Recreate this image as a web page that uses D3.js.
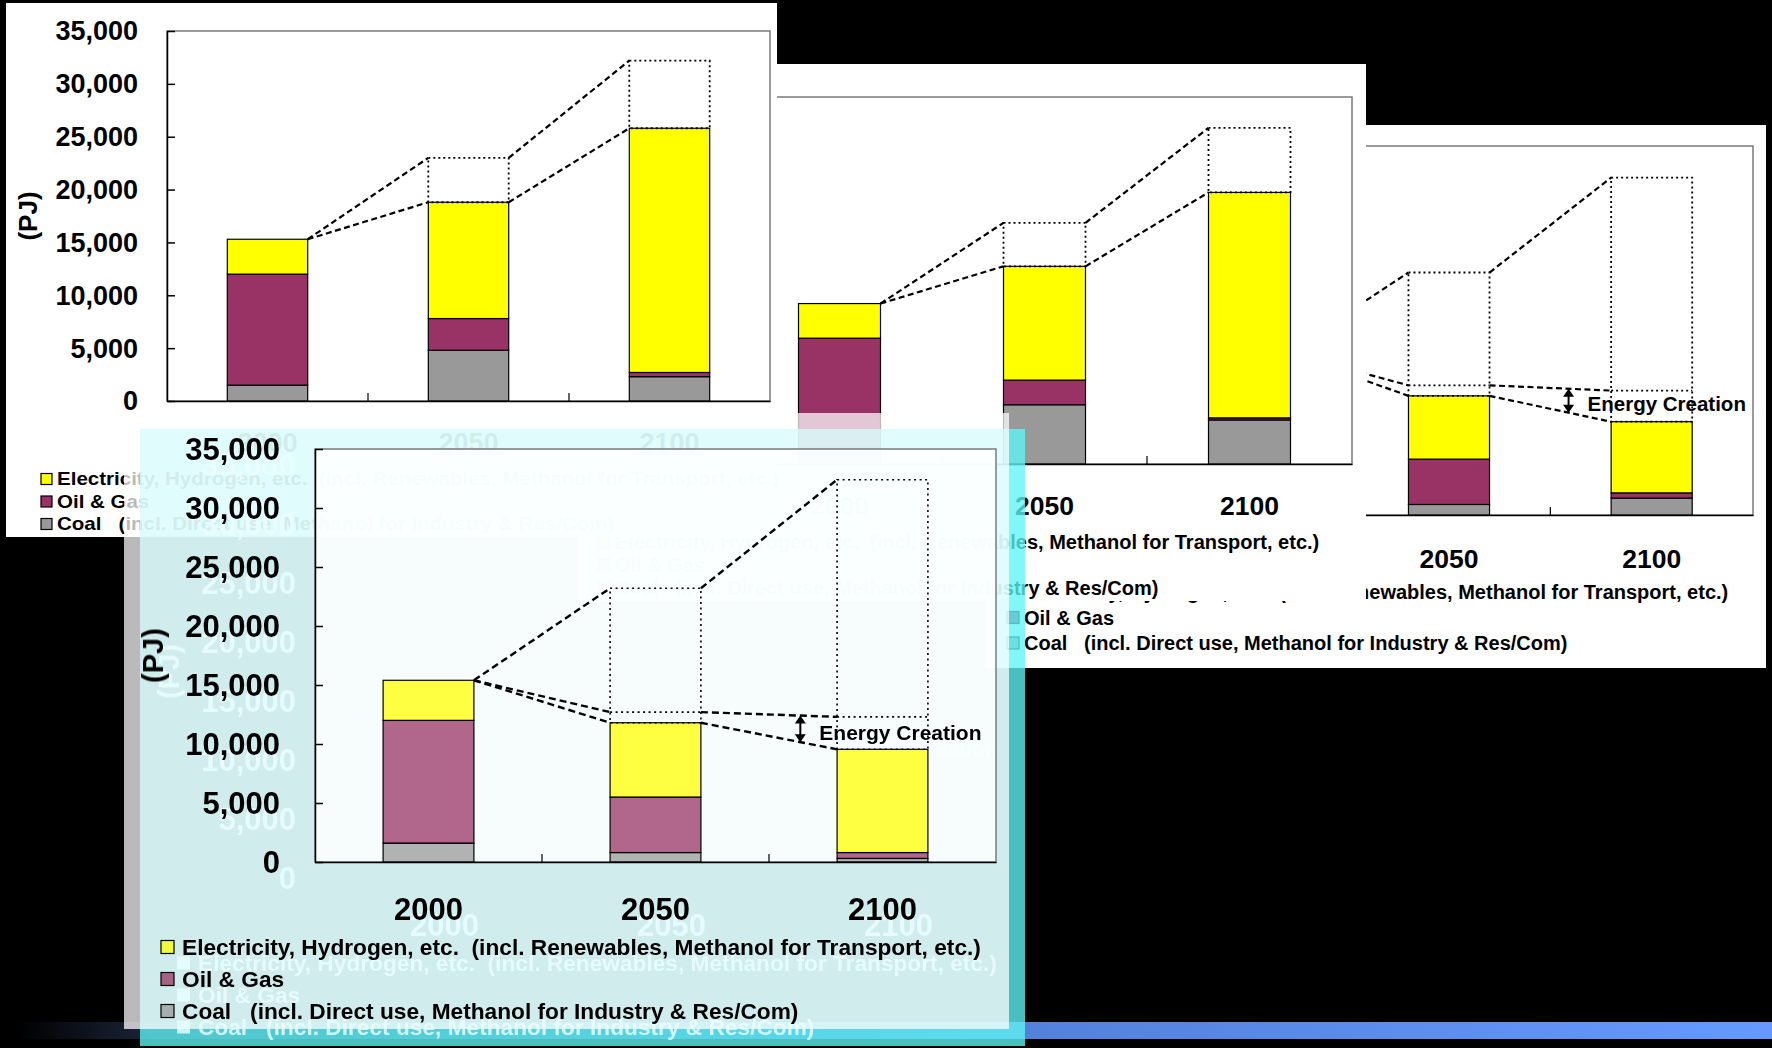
<!DOCTYPE html>
<html>
<head>
<meta charset="utf-8">
<script src="https://cdn.jsdelivr.net/npm/d3@7"></script>
<style>
body { margin: 0; background: #000; }
svg { display: block; }
text { font-family: 'Liberation Sans', Arial, sans-serif; font-weight: bold; white-space: pre; }
</style>
</head>
<body>
<svg id="chart" width="1772" height="1048"></svg>
<script>
const years = ['2000', '2050', '2100']
const yTicks = [0, 5000, 10000, 15000, 20000, 25000, 30000, 35000]
const seriesKeys = ['coal', 'oil', 'elec']
const legendKeys = ['elec', 'oil', 'coal']
const legendLabels = [
    'Electricity, Hydrogen, etc.  (incl. Renewables, Methanol for Transport, etc.)',
    'Oil & Gas',
    'Coal   (incl. Direct use, Methanol for Industry & Res/Com)'
]
const yLabel = '(PJ)'
const annotation = 'Energy Creation'

// slide 1 (back left)
const coalA = [1500, 4800, 2300]
const oilA = [10500, 3000, 400]
const elecA = [3300, 11000, 23100]
const topA = [null, 23000, 32200]

// slide 2
const coalB = [1500, 5650, 4200]
const oilB = [10500, 2350, 200]
const elecB = [3300, 10850, 21500]
const topB = [null, 23000, 32050]

// slide 3 (back right)
const coalC = [1600, 1000, 1600]
const oilC = [10400, 4300, 500]
const elecC = [3400, 6000, 6750]
const potC = [null, 12300, 11800]
const topC = [null, 23000, 32000]

// slide 4 (front)
const coalD = [1600, 800, 300]
const oilD = [10400, 4700, 500]
const elecD = [3400, 6300, 8750]
const potD = [null, 12700, 12300]
const topD = [null, 23200, 32400]

const colors = { coal: '#999999', oil: '#993366', elec: '#ffff00' }
const fmt = d3.format(',')
const svg = d3.select('#chart')

function scalesFor(o) {
    const x = d3.scaleBand().domain(years).range([o.left, o.right]).paddingInner(0.6).paddingOuter(0.3)
    const y = d3.scaleLinear().domain([0, 35000]).range([o.bottom, o.top])
    return { x, y }
}

function totalsOf(o) {
    return years.map((yr, i) => o.coal[i] + o.oil[i] + o.elec[i])
}

function arrowPos(o, x, y) {
    const totals = totalsOf(o)
    const bw = x.bandwidth()
    const xa0 = x(years[1]) + bw
    const xa1 = x(years[2])
    const f = o.arrowAt
    return {
        xa: xa0 + f * (xa1 - xa0),
        yu: y(o.pot[1] + f * (o.pot[2] - o.pot[1])),
        yl: y(totals[1] + f * (totals[2] - totals[1]))
    }
}

function drawBody(g, o, x, y) {
    const bw = x.bandwidth()
    const rows = years.map((yr, i) => ({ year: yr, coal: o.coal[i], oil: o.oil[i], elec: o.elec[i] }))
    const totals = totalsOf(o)

    // plot area
    g.append('rect')
        .attr('x', o.left)
        .attr('y', o.top)
        .attr('width', o.right - o.left)
        .attr('height', o.bottom - o.top)
        .attr('fill', '#fff')
        .attr('fill-opacity', o.plotOpacity)
        .attr('stroke', '#7a7a7a')
        .attr('stroke-width', 1.5)

    // stacked bars
    g.append('g')
        .selectAll('g')
        .data(d3.stack().keys(seriesKeys)(rows))
        .join('g')
        .attr('fill', d => colors[d.key])
        .attr('fill-opacity', o.barOpacity)
        .selectAll('rect')
        .data(d => d)
        .join('rect')
        .attr('x', d => x(d.data.year))
        .attr('y', d => y(d[1]))
        .attr('width', bw)
        .attr('height', d => y(d[0]) - y(d[1]))
        .attr('stroke', '#000')
        .attr('stroke-width', 1.2)

    // dotted boxes (demand without savings)
    years.forEach((yr, i) => {
        if (o.topv[i] == null) return
        g.append('rect')
            .attr('x', x(yr))
            .attr('y', y(o.topv[i]))
            .attr('width', bw)
            .attr('height', y(totals[i]) - y(o.topv[i]))
            .attr('fill', 'none')
            .attr('stroke', '#000')
            .attr('stroke-width', o.dotW)
            .attr('stroke-dasharray', o.dot)
        if (o.pot && o.pot[i] != null) {
            g.append('line')
                .attr('x1', x(yr))
                .attr('x2', x(yr) + bw)
                .attr('y1', y(o.pot[i]))
                .attr('y2', y(o.pot[i]))
                .attr('stroke', '#000')
                .attr('stroke-width', o.dotW)
                .attr('stroke-dasharray', o.dot)
        }
    })

    // dashed connectors
    const line = d3.line()
    const connectors = [o.topv, totals]
    if (o.pot) connectors.push(o.pot)
    connectors.forEach(vals => {
        for (let i = 1; i < years.length; i++) {
            const v0 = i === 1 ? totals[0] : vals[i - 1]
            g.append('path')
                .attr('d', line([[x(years[i - 1]) + bw, y(v0)], [x(years[i]), y(vals[i])]]))
                .attr('fill', 'none')
                .attr('stroke', '#000')
                .attr('stroke-width', o.dashW)
                .attr('stroke-dasharray', o.dash)
        }
    })

    // left axis (ticks point inward)
    g.append('g')
        .attr('transform', `translate(${o.left},0)`)
        .call(d3.axisLeft(y).tickValues(yTicks).tickSizeInner(-8).tickSizeOuter(0).tickFormat(''))
        .call(a => a.selectAll('path,line').attr('stroke', '#000').attr('stroke-width', 1.5))

    // bottom axis
    g.append('g')
        .attr('transform', `translate(0,${o.bottom})`)
        .call(d3.axisBottom(x).tickSize(0).tickFormat(''))
        .call(a => a.select('.domain').attr('stroke', '#000').attr('stroke-width', 1.5))

    // category separators
    g.selectAll(null)
        .data(years.slice(1))
        .join('line')
        .attr('x1', d => x(d) - x.step() * x.paddingInner() / 2)
        .attr('x2', d => x(d) - x.step() * x.paddingInner() / 2)
        .attr('y1', o.bottom)
        .attr('y2', o.bottom - 8)
        .attr('stroke', '#000')
        .attr('stroke-width', 1.2)

    // energy creation arrow
    if (o.arrowAt != null) {
        const p = arrowPos(o, x, y)
        const h = 8, w = 5.5
        g.append('line')
            .attr('x1', p.xa).attr('x2', p.xa)
            .attr('y1', p.yu + h - 1).attr('y2', p.yl - h + 1)
            .attr('stroke', '#000').attr('stroke-width', 2)
        g.append('path')
            .attr('d', `M${p.xa},${p.yu}L${p.xa - w},${p.yu + h}L${p.xa + w},${p.yu + h}Z` +
                `M${p.xa},${p.yl}L${p.xa - w},${p.yl - h}L${p.xa + w},${p.yl - h}Z`)
            .attr('fill', '#000')
    }
}

function drawTexts(g, o, x, y, ghost) {
    const ink = ghost || '#000'
    const bw = x.bandwidth()

    // y tick labels
    g.append('g')
        .selectAll('text')
        .data(yTicks)
        .join('text')
        .attr('x', o.left - o.tickPad)
        .attr('y', d => y(d))
        .attr('dy', '0.35em')
        .attr('text-anchor', 'end')
        .attr('font-size', o.tickFont)
        .attr('fill', ink)
        .text(fmt)

    g.append('text')
        .attr('transform', `translate(${o.left - o.pjOff},${(o.top + o.bottom) / 2}) rotate(-90)`)
        .attr('text-anchor', 'middle')
        .attr('dy', '0.35em')
        .attr('font-size', o.pjFont)
        .attr('fill', ink)
        .text(yLabel)

    // x labels
    g.append('g')
        .selectAll('text')
        .data(years)
        .join('text')
        .attr('x', d => x(d) + bw / 2)
        .attr('y', o.bottom + o.xlabOff)
        .attr('dy', '0.35em')
        .attr('text-anchor', 'middle')
        .attr('font-size', o.xlabFont)
        .attr('fill', ink)
        .text(d => d)

    // legend
    const lg = g.append('g')
        .selectAll('g')
        .data(legendKeys)
        .join('g')
        .attr('transform', (d, i) => `translate(${o.legendX},${o.legendY + i * o.legendGap})`)
    lg.append('rect')
        .attr('x', -o.mOff)
        .attr('y', -o.marker / 2)
        .attr('width', o.marker)
        .attr('height', o.marker)
        .attr('fill', d => ghost || colors[d])
        .attr('fill-opacity', ghost ? 1 : o.barOpacity)
        .attr('stroke', ghost ? 'none' : '#000')
        .attr('stroke-width', 1.2)
    lg.append('text')
        .attr('xml:space', 'preserve')
        .attr('dy', '0.35em')
        .attr('font-size', o.legendFont)
        .attr('transform', `scale(${o.legendScale || 1},1)`)
        .attr('fill', ink)
        .text((d, i) => legendLabels[i])

    if (o.arrowAt != null) {
        const p = arrowPos(o, x, y)
        g.append('text')
            .attr('x', p.xa + 19)
            .attr('y', p.yl - 2)
            .attr('font-size', o.annFont)
            .attr('fill', ink)
            .text(annotation)
    }
}

function drawPanel(o) {
    const { x, y } = scalesFor(o)
    const g = svg.append('g')
    g.append('rect')
        .attr('x', o.frame[0]).attr('y', o.frame[1])
        .attr('width', o.frame[2] - o.frame[0]).attr('height', o.frame[3] - o.frame[1])
        .attr('fill', '#fff')
    drawBody(g, o, x, y)
    drawTexts(g, o, x, y)
}

// background bar at the bottom
const grad = svg.append('defs').append('linearGradient').attr('id', 'bar')
grad.append('stop').attr('offset', '0%').attr('stop-color', '#000')
grad.append('stop').attr('offset', '8%').attr('stop-color', '#1c263c')
grad.append('stop').attr('offset', '55%').attr('stop-color', '#5280d8')
grad.append('stop').attr('offset', '100%').attr('stop-color', '#6699ff')
svg.append('rect').attr('x', 17).attr('y', 1022).attr('width', 1755).attr('height', 17).attr('fill', 'url(#bar)')

const common = {
    plotOpacity: 1, barOpacity: 1,
    dash: '6,3.5', dashW: 2.2, dot: '2,3', dotW: 1.8,
    tickFont: 27, tickPad: 29, pjFont: 26, pjOff: 139, xlabFont: 26.5,
    legendFont: 20, marker: 12, mOff: 17
}

// slide 3
drawPanel(Object.assign({}, common, {
    frame: [985, 125, 1766, 668],
    left: 1145, right: 1753, top: 146, bottom: 515,
    coal: coalC, oil: oilC, elec: elecC, pot: potC, topv: topC,
    xlabOff: 44, legendX: 1024, legendY: 592, legendGap: 25.5,
    arrowAt: 0.65, annFont: 20.5
}))

// slide 2
drawPanel(Object.assign({}, common, {
    frame: [577, 64, 1366, 601],
    left: 737, right: 1352, top: 97, bottom: 464,
    coal: coalB, oil: oilB, elec: elecB, topv: topB,
    xlabOff: 42, legendX: 615, legendY: 542, legendGap: 23
}))

// slide 1
drawPanel(Object.assign({}, common, {
    frame: [6, 3, 777, 537],
    left: 167, right: 770, top: 31, bottom: 401,
    coal: coalA, oil: oilA, elec: elecA, topv: topA,
    xlabFont: 27, xlabOff: 42, legendX: 57, legendY: 479, legendGap: 22.5,
    legendFont: 18, legendScale: 1.14, marker: 11, mOff: 16
}))

// slide 4: translucent cyan card in front
svg.append('rect').attr('x', 124).attr('y', 413).attr('width', 885).attr('height', 616)
    .attr('fill', '#fff').attr('fill-opacity', 0.73)
svg.append('rect').attr('x', 140).attr('y', 429).attr('width', 869).attr('height', 600)
    .attr('fill', '#d7fbfb').attr('fill-opacity', 0.77)
svg.append('rect').attr('x', 1009).attr('y', 429).attr('width', 16).attr('height', 617)
    .attr('fill', '#5ff5f5').attr('fill-opacity', 0.78)
svg.append('rect').attr('x', 140).attr('y', 1029).attr('width', 869).attr('height', 17)
    .attr('fill', '#5ff5f5').attr('fill-opacity', 0.78)

const front = Object.assign({}, common, {
    left: 315, right: 996, top: 449, bottom: 862,
    coal: coalD, oil: oilD, elec: elecD, pot: potD, topv: topD,
    plotOpacity: 0.6, barOpacity: 0.75,
    dash: '7,4', dashW: 2.4, dot: '2,3.5', dotW: 1.6,
    tickFont: 31, tickPad: 35, pjFont: 29, pjOff: 162, xlabFont: 31, xlabOff: 47,
    legendX: 182, legendY: 947, legendGap: 32, legendFont: 22.7, marker: 13, mOff: 21,
    arrowAt: 0.73, annFont: 21
})
const sD = scalesFor(front)
const gD = svg.append('g')
gD.append('rect')
    .attr('x', front.left).attr('y', front.top)
    .attr('width', front.right - front.left).attr('height', front.bottom - front.top)
    .attr('fill', '#fff').attr('fill-opacity', 0.6)
// pale echo of the labels
drawTexts(gD.append('g').attr('transform', 'translate(16,16)').attr('opacity', 0.8), front, sD.x, sD.y, '#ecffff')
drawBody(gD, front, sD.x, sD.y)
drawTexts(gD, front, sD.x, sD.y)
</script>
</body>
</html>
